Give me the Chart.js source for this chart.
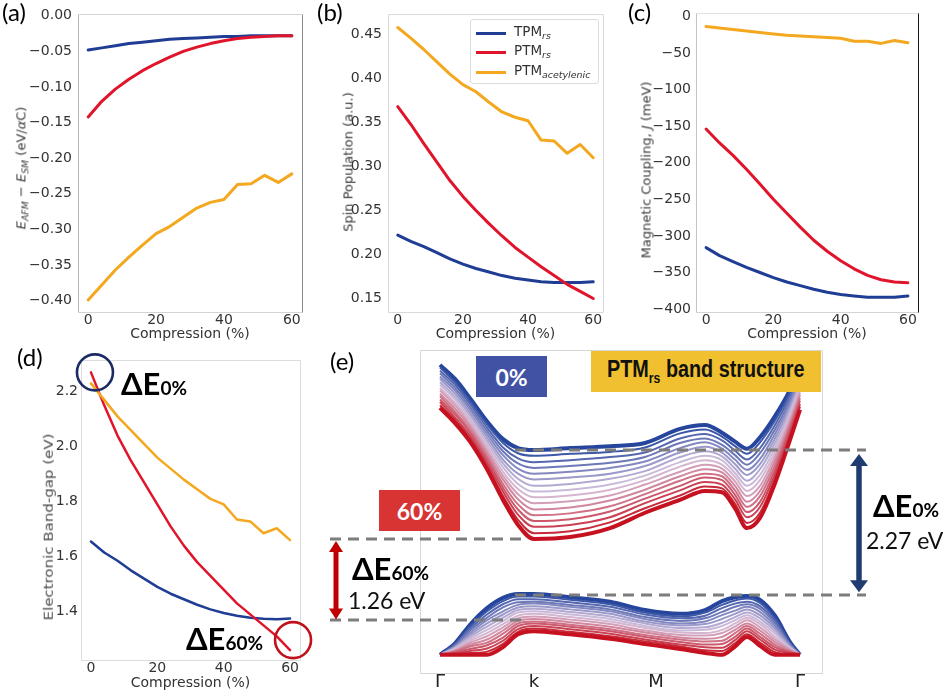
<!DOCTYPE html>
<html>
<head>
<meta charset="utf-8">
<title>PTM / TPM under compression</title>
<script src="https://cdn.jsdelivr.net/npm/chart.js@4.4.1/dist/chart.umd.min.js"></script>
<style>
html, body { margin: 0; padding: 0; background: #fff; }
#fig { position: relative; width: 945px; height: 695px; overflow: hidden; font-family: 'DejaVu Sans', sans-serif; }
#fig canvas { position: absolute; }
.txt { position: absolute; white-space: nowrap; line-height: 1; }
.panel { font-family: Lato, 'Open Sans', sans-serif; font-size: 24px; color: #000; }
.ytitle { position: absolute; white-space: nowrap; line-height: 1; font-size: 13px; color: #3a3a3a;
  transform: translate(-50%, -50%) rotate(-90deg); }
.ytitle sub { font-size: 0.72em; vertical-align: -0.3em; }
.dE { font-family: Lato, 'Open Sans', sans-serif; font-weight: bold; font-size: 31px; color: #000; }
.dE span { font-size: 19px; }
.ev { font-family: Lato, 'Open Sans', sans-serif; font-size: 23px; color: #111; }
.tag { position: absolute; display: flex; align-items: center; justify-content: center;
  font-family: Lato, 'Open Sans', sans-serif; font-weight: bold; color: #fff; font-size: 23px; }
#legend { position: absolute; left: 470px; top: 19px; width: 127px; height: 63px; border: 1px solid #dcdcdc;
  border-radius: 3px; background: rgba(255,255,255,0.85); font-size: 13.5px; color: #333; }
#legend .row { position: absolute; left: 5px; height: 16px; display: flex; align-items: center; white-space: nowrap; }
#legend .sw { display: inline-block; width: 30px; height: 3px; margin-right: 8px; }
#legend .lt { line-height: 1; }
#legend sub { font-size: 0.7em; font-style: italic; vertical-align: -0.35em; }
#bandTitle { background: #f0c030; color: #111; font-family: 'Liberation Sans', Arial, sans-serif; font-size: 23px; }
#bandTitle .inner { transform: scaleX(0.86); white-space: nowrap; }
#bandTitle sub { font-size: 0.62em; vertical-align: -0.45em; }
</style>
</head>
<body>
<div id="fig">
  <canvas id="chartA" width="320" height="345" style="left:0;top:0"></canvas>
  <canvas id="chartB" width="300" height="345" style="left:320px;top:0"></canvas>
  <canvas id="chartC" width="325" height="345" style="left:620px;top:0"></canvas>
  <canvas id="chartD" width="330" height="355" style="left:0;top:340px"></canvas>
  <canvas id="chartE" width="620" height="355" style="left:325px;top:340px"></canvas>

  <div class="txt panel" style="left:2px;top:0">(a)</div>
  <div class="txt panel" style="left:317px;top:0">(b)</div>
  <div class="txt panel" style="left:628px;top:0">(c)</div>
  <div class="txt panel" style="left:17px;top:345px">(d)</div>
  <div class="txt panel" style="left:330px;top:349px">(e)</div>

  <div class="ytitle" style="left:22px;top:168px"><i>E</i><sub><i>AFM</i></sub> &minus; <i>E</i><sub><i>SM</i></sub> (eV/<i>&alpha;</i>C)</div>
  <div class="ytitle" style="left:348px;top:162px">Spin Population (a.u.)</div>
  <div class="ytitle" style="left:646px;top:170px">Magnetic Coupling, <i>J</i> (meV)</div>
  <div class="ytitle" style="left:49px;top:527px;font-size:12.5px;color:#4a4a4a;transform:translate(-50%,-50%) rotate(-90deg) scaleX(1.2)">Electronic Band-gap (eV)</div>

  <div id="legend">
    <div class="row" style="top:5px"><span class="sw" style="background:#1f3d94"></span><span class="lt">TPM<sub>rs</sub></span></div>
    <div class="row" style="top:24px"><span class="sw" style="background:#e0152b"></span><span class="lt">PTM<sub>rs</sub></span></div>
    <div class="row" style="top:44px"><span class="sw" style="background:#f4a81f"></span><span class="lt">PTM<sub>acetylenic</sub></span></div>
  </div>

  <div class="txt dE" style="left:121px;top:368px">&Delta;E<span>0%</span></div>
  <div class="txt dE" style="left:186px;top:623px">&Delta;E<span>60%</span></div>

  <div class="tag" style="left:476px;top:356px;width:71px;height:41px;background:#4152a5">0%</div>
  <div class="tag" style="left:379px;top:490px;width:81px;height:41px;background:#d83434">60%</div>
  <div class="tag" id="bandTitle" style="left:591px;top:351px;width:230px;height:41px"><div class="inner">PTM<sub>rs</sub> band structure</div></div>

  <div class="txt dE" style="left:873px;top:490px">&Delta;E<span>0%</span></div>
  <div class="txt ev" id="gap0Label" style="left:866px;top:529px"></div>
  <div class="txt dE" style="left:352px;top:553px">&Delta;E<span>60%</span></div>
  <div class="txt ev" id="gap60Label" style="left:348px;top:589px"></div>
</div>

<script>
// compression steps (%)
const compression = [0, 4, 8, 12, 16, 20, 24, 28, 32, 36, 40, 44, 48, 52, 56, 60];

// (a) E_AFM - E_SM per αC (eV)
const energyTPMrs = [-0.048, -0.045, -0.042, -0.039, -0.037, -0.035, -0.033, -0.032, -0.031, -0.030, -0.029, -0.029, -0.028, -0.028, -0.028, -0.028];
const energyPTMrs = [-0.142, -0.120, -0.103, -0.089, -0.077, -0.067, -0.058, -0.050, -0.044, -0.039, -0.035, -0.032, -0.030, -0.029, -0.028, -0.028];
const energyPTMac = [-0.399, -0.378, -0.357, -0.339, -0.322, -0.306, -0.296, -0.283, -0.270, -0.262, -0.258, -0.237, -0.236, -0.224, -0.234, -0.222];

// (b) spin population (a.u.)
const spinTPMrs = [0.222, 0.215, 0.209, 0.202, 0.195, 0.189, 0.184, 0.180, 0.176, 0.173, 0.171, 0.169, 0.168, 0.168, 0.168, 0.169];
const spinPTMrs = [0.368, 0.348, 0.326, 0.305, 0.284, 0.266, 0.250, 0.235, 0.221, 0.208, 0.197, 0.186, 0.176, 0.166, 0.158, 0.150];
const spinPTMac = [0.458, 0.446, 0.433, 0.419, 0.405, 0.393, 0.385, 0.373, 0.362, 0.356, 0.352, 0.330, 0.329, 0.315, 0.325, 0.310];

// (c) magnetic coupling J (meV)
const couplingTPMrs = [-316, -327, -335, -343, -350, -357, -363, -368, -373, -377, -380, -382, -384, -384, -384, -382];
const couplingPTMrs = [-154, -173, -190, -209, -229, -250, -269, -288, -306, -321, -334, -345, -354, -360, -363, -364];
const couplingPTMac = [-14, -16, -18, -20, -22, -24, -26, -27, -28, -29, -30, -34, -34, -37, -33, -36];

// (d) electronic band gap (eV)
const gapTPMrs = [1.655, 1.615, 1.585, 1.55, 1.52, 1.49, 1.465, 1.445, 1.425, 1.408, 1.395, 1.385, 1.378, 1.374, 1.372, 1.375];
const gapPTMrs = [2.27, 2.15, 2.04, 1.95, 1.87, 1.79, 1.71, 1.64, 1.58, 1.53, 1.48, 1.43, 1.39, 1.35, 1.31, 1.26];
const gapPTMac = [2.23, 2.17, 2.11, 2.06, 2.01, 1.96, 1.92, 1.88, 1.845, 1.81, 1.79, 1.735, 1.728, 1.685, 1.703, 1.66];

// axis ticks
const compressionTicks = [0, 20, 40, 60];
const energyTicks = [-0.40, -0.35, -0.30, -0.25, -0.20, -0.15, -0.10, -0.05, 0.00];
const spinTicks = [0.15, 0.20, 0.25, 0.30, 0.35, 0.40, 0.45];
const couplingTicks = [-400, -350, -300, -250, -200, -150, -100, -50, 0];
const gapTicks = [1.4, 1.6, 1.8, 2.0, 2.2];

// (e) PTM_rs bands along Γ-k-M-Γ, one row per compression step (eV)
const kPath = [0, 0.15, 0.30, 0.47, 0.63, 0.78, 0.94, 1.30, 1.70, 2.05, 2.40, 2.65, 2.82, 2.95, 3.07, 3.20, 3.35, 3.50, 3.60];
const kTickPos = [0, 0.94, 2.16, 3.60];
const kTickLabels = ['Γ', 'k', 'M', 'Γ'];

const conductionBands = [
  [3.58, 3.36, 3.06, 2.70, 2.42, 2.28, 2.25, 2.28, 2.31, 2.36, 2.58, 2.64, 2.52, 2.38, 2.27, 2.45, 2.78, 3.19, 3.56],
  [3.54, 3.31, 3.01, 2.65, 2.36, 2.20, 2.16, 2.19, 2.22, 2.29, 2.51, 2.57, 2.46, 2.31, 2.19, 2.37, 2.71, 3.14, 3.51],
  [3.49, 3.27, 2.97, 2.60, 2.29, 2.12, 2.06, 2.09, 2.14, 2.21, 2.43, 2.50, 2.40, 2.24, 2.10, 2.28, 2.64, 3.09, 3.47],
  [3.45, 3.22, 2.92, 2.55, 2.23, 2.04, 1.97, 2.00, 2.05, 2.14, 2.36, 2.43, 2.33, 2.17, 2.02, 2.20, 2.57, 3.03, 3.42],
  [3.40, 3.18, 2.88, 2.50, 2.17, 1.96, 1.88, 1.91, 1.97, 2.07, 2.28, 2.37, 2.27, 2.10, 1.94, 2.11, 2.50, 2.98, 3.38],
  [3.36, 3.13, 2.83, 2.45, 2.10, 1.88, 1.79, 1.82, 1.88, 2.00, 2.21, 2.30, 2.21, 2.03, 1.86, 2.03, 2.43, 2.93, 3.33],
  [3.31, 3.08, 2.79, 2.40, 2.04, 1.80, 1.69, 1.72, 1.80, 1.92, 2.14, 2.23, 2.15, 1.96, 1.77, 1.95, 2.36, 2.88, 3.29],
  [3.27, 3.04, 2.74, 2.35, 1.98, 1.72, 1.60, 1.63, 1.71, 1.85, 2.06, 2.16, 2.09, 1.89, 1.69, 1.86, 2.29, 2.83, 3.24],
  [3.22, 2.99, 2.70, 2.30, 1.91, 1.64, 1.51, 1.54, 1.63, 1.78, 1.99, 2.09, 2.02, 1.83, 1.61, 1.78, 2.22, 2.77, 3.20],
  [3.18, 2.95, 2.65, 2.25, 1.85, 1.56, 1.42, 1.45, 1.54, 1.71, 1.91, 2.02, 1.96, 1.76, 1.53, 1.69, 2.15, 2.72, 3.15],
  [3.13, 2.90, 2.61, 2.20, 1.79, 1.48, 1.32, 1.35, 1.46, 1.63, 1.84, 1.95, 1.90, 1.69, 1.44, 1.61, 2.08, 2.67, 3.11],
  [3.09, 2.85, 2.56, 2.15, 1.72, 1.40, 1.23, 1.26, 1.37, 1.56, 1.77, 1.88, 1.84, 1.62, 1.36, 1.53, 2.01, 2.62, 3.06],
  [3.04, 2.81, 2.52, 2.10, 1.66, 1.32, 1.14, 1.17, 1.29, 1.49, 1.69, 1.82, 1.78, 1.55, 1.28, 1.44, 1.94, 2.57, 3.02],
  [3.00, 2.76, 2.47, 2.05, 1.60, 1.24, 1.05, 1.08, 1.20, 1.42, 1.62, 1.75, 1.71, 1.48, 1.20, 1.36, 1.87, 2.51, 2.97],
  [2.95, 2.72, 2.43, 2.00, 1.53, 1.16, 0.95, 0.98, 1.12, 1.34, 1.54, 1.68, 1.65, 1.41, 1.11, 1.27, 1.80, 2.46, 2.93],
  [2.91, 2.67, 2.38, 1.95, 1.47, 1.08, 0.86, 0.89, 1.03, 1.27, 1.47, 1.61, 1.59, 1.34, 1.03, 1.19, 1.73, 2.41, 2.88]
];

const valenceBands = [
  [-0.95, -0.77, -0.48, -0.22, -0.06, 0.00, 0.00, -0.05, -0.12, -0.25, -0.31, -0.25, -0.11, -0.05, -0.03, -0.09, -0.34, -0.75, -0.95],
  [-0.95, -0.78, -0.51, -0.27, -0.11, -0.04, -0.04, -0.09, -0.16, -0.29, -0.35, -0.29, -0.17, -0.10, -0.07, -0.14, -0.38, -0.76, -0.95],
  [-0.95, -0.79, -0.54, -0.32, -0.16, -0.08, -0.08, -0.13, -0.20, -0.32, -0.38, -0.34, -0.22, -0.15, -0.12, -0.19, -0.42, -0.78, -0.95],
  [-0.95, -0.81, -0.57, -0.37, -0.21, -0.13, -0.12, -0.17, -0.24, -0.36, -0.42, -0.38, -0.28, -0.20, -0.16, -0.23, -0.46, -0.79, -0.95],
  [-0.95, -0.82, -0.61, -0.41, -0.27, -0.17, -0.15, -0.20, -0.27, -0.39, -0.46, -0.43, -0.33, -0.26, -0.20, -0.28, -0.50, -0.80, -0.95],
  [-0.95, -0.83, -0.64, -0.46, -0.32, -0.21, -0.19, -0.24, -0.31, -0.43, -0.49, -0.47, -0.39, -0.31, -0.24, -0.33, -0.54, -0.82, -0.95],
  [-0.95, -0.84, -0.67, -0.51, -0.37, -0.25, -0.23, -0.28, -0.35, -0.46, -0.53, -0.52, -0.45, -0.36, -0.29, -0.38, -0.58, -0.83, -0.95],
  [-0.95, -0.85, -0.70, -0.56, -0.42, -0.29, -0.27, -0.32, -0.39, -0.50, -0.57, -0.56, -0.50, -0.41, -0.33, -0.43, -0.62, -0.84, -0.95],
  [-0.95, -0.87, -0.73, -0.61, -0.47, -0.34, -0.31, -0.36, -0.43, -0.53, -0.60, -0.61, -0.56, -0.46, -0.37, -0.47, -0.67, -0.86, -0.95],
  [-0.95, -0.88, -0.76, -0.66, -0.52, -0.38, -0.35, -0.40, -0.47, -0.57, -0.64, -0.65, -0.61, -0.51, -0.41, -0.52, -0.71, -0.87, -0.95],
  [-0.95, -0.89, -0.79, -0.71, -0.57, -0.42, -0.39, -0.44, -0.51, -0.60, -0.68, -0.70, -0.67, -0.56, -0.46, -0.57, -0.75, -0.88, -0.95],
  [-0.95, -0.90, -0.82, -0.76, -0.62, -0.46, -0.43, -0.48, -0.55, -0.64, -0.71, -0.74, -0.73, -0.61, -0.50, -0.62, -0.79, -0.90, -0.95],
  [-0.95, -0.91, -0.86, -0.80, -0.68, -0.50, -0.46, -0.51, -0.58, -0.67, -0.75, -0.79, -0.78, -0.67, -0.54, -0.67, -0.83, -0.91, -0.95],
  [-0.95, -0.93, -0.89, -0.85, -0.73, -0.55, -0.50, -0.55, -0.62, -0.71, -0.79, -0.83, -0.84, -0.72, -0.58, -0.71, -0.87, -0.92, -0.95],
  [-0.95, -0.94, -0.92, -0.90, -0.78, -0.59, -0.54, -0.59, -0.66, -0.74, -0.82, -0.88, -0.89, -0.77, -0.63, -0.76, -0.91, -0.94, -0.95],
  [-0.95, -0.95, -0.95, -0.95, -0.83, -0.63, -0.58, -0.63, -0.70, -0.78, -0.86, -0.92, -0.95, -0.82, -0.67, -0.81, -0.95, -0.95, -0.95]
];

const BLUE = '#1f3d94', RED = '#e0152b', ORANGE = '#f4a81f';
const AXIS_FONT = 'DejaVu Sans';
const TICK_COLOR = '#333';

Chart.defaults.font.family = AXIS_FONT;

// thin box around the plotting area, each side with its own colour
const framePlugin = {
  id: 'frame',
  beforeDatasetsDraw(chart, args, opts) {
    const { ctx, chartArea: a } = chart;
    const c = opts.colors || {};
    const L = Math.round(a.left) + 0.5, R = Math.round(a.right) + 0.5;
    const T = Math.round(a.top) + 0.5, B = Math.round(a.bottom) + 0.5;
    const seg = (color, x0, y0, x1, y1) => {
      if (!color) return;
      ctx.strokeStyle = color;
      ctx.beginPath(); ctx.moveTo(x0, y0); ctx.lineTo(x1, y1); ctx.stroke();
    };
    ctx.save();
    ctx.lineWidth = 1;
    seg(c.top, L, T, R, T);
    seg(c.bottom, L, B, R, B);
    seg(c.left, L, T, L, B);
    seg(c.right, R, T, R, B);
    ctx.restore();
  }
};

const fixedTicks = values => scale => { scale.ticks = values.map(v => ({ value: v })); };
const minus = s => s.replace('-', '\u2212');

function seriesChart(id, cfg) {
  return new Chart(document.getElementById(id), {
    type: 'line',
    data: {
      labels: compression,
      datasets: cfg.series.map(s => ({
        data: s.data, borderColor: s.color, borderWidth: cfg.lineWidth,
        pointRadius: 0, tension: 0, fill: false, borderJoinStyle: 'round', borderCapStyle: 'round'
      }))
    },
    options: {
      responsive: false, animation: false, devicePixelRatio: 1,
      layout: { padding: cfg.padding },
      plugins: { legend: { display: false }, tooltip: { enabled: false }, frame: { colors: cfg.frame } },
      scales: {
        x: {
          type: 'linear', min: -3, max: 63,
          afterBuildTicks: fixedTicks(compressionTicks),
          afterFit: s => { s.height = cfg.xHeight; },
          grid: { display: false, drawTicks: false }, border: { display: false },
          ticks: { font: { size: 14 }, color: TICK_COLOR, padding: cfg.xPad, maxRotation: 0, autoSkip: false,
                   callback: v => String(v) },
          title: { display: true, text: 'Compression (%)', font: { size: 14 }, color: TICK_COLOR,
                   padding: { top: 0, bottom: cfg.titlePad } }
        },
        y: {
          type: 'linear', min: cfg.yMin, max: cfg.yMax,
          afterBuildTicks: fixedTicks(cfg.yTicks),
          afterFit: s => { s.width = cfg.yWidth; },
          grid: { display: false, drawTicks: false }, border: { display: false },
          ticks: { font: { size: 14 }, color: TICK_COLOR, padding: cfg.yPad, autoSkip: false, callback: cfg.fmt }
        }
      }
    },
    plugins: [framePlugin].concat(cfg.extra || [])
  });
}

const threeSeries = (tpm, ptm, ac) => [
  { data: ac, color: ORANGE }, { data: ptm, color: RED }, { data: tpm, color: BLUE }
];

seriesChart('chartA', {
  series: threeSeries(energyTPMrs, energyPTMrs, energyPTMac), lineWidth: 3,
  padding: { top: 12, right: 18, left: 0, bottom: 0 }, xHeight: 33, xPad: 0, titlePad: 2,
  yMin: -0.416, yMax: 0.002, yTicks: energyTicks, yWidth: 78, yPad: 6,
  fmt: v => minus(v.toFixed(2)),
  frame: { top: '#d4d4d4', bottom: '#d4d4d4', left: '#b8b8b8', right: '#8a8a8a' }
});

seriesChart('chartB', {
  series: threeSeries(spinTPMrs, spinPTMrs, spinPTMac), lineWidth: 3,
  padding: { top: 12, right: 17, left: 0, bottom: 0 }, xHeight: 33, xPad: 0, titlePad: 2,
  yMin: 0.1346, yMax: 0.4729, yTicks: spinTicks, yWidth: 68, yPad: 6,
  fmt: v => v.toFixed(2),
  frame: { top: '#dadada', bottom: '#dadada', left: '#dadada', right: '#dadada' }
});

seriesChart('chartC', {
  series: threeSeries(couplingTPMrs, couplingPTMrs, couplingPTMac), lineWidth: 3,
  padding: { top: 10, right: 27, left: 0, bottom: 0 }, xHeight: 33, xPad: 0, titlePad: 2,
  yMin: -404, yMax: 4, yTicks: couplingTicks, yWidth: 76, yPad: 5,
  fmt: v => minus(String(v)),
  frame: { top: '#e2e2e2', bottom: '#d4d4d4', left: '#c4c4c4', right: '#1a1a1a' }
});

// circles marking the PTM_rs gap at 0 % and 60 %
const gapCircles = {
  id: 'gapCircles',
  afterDatasetsDraw(chart) {
    const { ctx, scales: { x, y } } = chart;
    const last = compression.length - 1;
    const ring = (cx, cy, color) => {
      ctx.beginPath(); ctx.arc(cx, cy, 18, 0, 2 * Math.PI);
      ctx.strokeStyle = color; ctx.lineWidth = 2.6; ctx.stroke();
    };
    ctx.save();
    ring(x.getPixelForValue(compression[0]) + 4, y.getPixelForValue(gapPTMrs[0]), '#1b2b63');
    ring(x.getPixelForValue(compression[last]) + 3, y.getPixelForValue(gapPTMrs[last]) - 10, '#c0121c');
    ctx.restore();
  }
};

seriesChart('chartD', {
  series: threeSeries(gapTPMrs, gapPTMrs, gapPTMac), lineWidth: 2.5,
  padding: { top: 20, right: 30, left: 0, bottom: 0 }, xHeight: 35, xPad: 0, titlePad: 3.5,
  yMin: 1.224, yMax: 2.315, yTicks: gapTicks, yWidth: 81, yPad: 3,
  fmt: v => v.toFixed(1),
  frame: { top: '#dcdcdc', bottom: '#dcdcdc', left: '#dcdcdc', right: '#dcdcdc' },
  extra: [gapCircles]
});

// ---- (e) band structure ----
function bandColor(t) {
  const stops = [[0, [38, 70, 158]], [0.5, [214, 194, 222]], [1, [198, 18, 32]]];
  const i = t <= 0.5 ? 0 : 1;
  const [t0, c0] = stops[i], [t1, c1] = stops[i + 1];
  const u = (t - t0) / (t1 - t0);
  const c = c0.map((v, k) => Math.round(v + (c1[k] - v) * u));
  return `rgb(${c[0]},${c[1]},${c[2]})`;
}

const bandDatasets = [];
// highest compression first so it ends up drawn on top
for (let i = compression.length - 1; i >= 0; i--) {
  const color = bandColor(compression[i] / compression[compression.length - 1]);
  const width = (i === 0 || i === compression.length - 1) ? 4 : 2;
  [conductionBands[i], valenceBands[i]].forEach(band => {
    bandDatasets.push({
      data: band.map((e, j) => ({ x: kPath[j], y: e })),
      borderColor: color, borderWidth: width, pointRadius: 0,
      cubicInterpolationMode: 'monotone', fill: false
    });
  });
}

function doubleArrow(ctx, px, yTop, yBot, color, half, head, shaft) {
  ctx.fillStyle = color; ctx.strokeStyle = color; ctx.lineWidth = shaft;
  ctx.beginPath(); ctx.moveTo(px, yTop + head - 1); ctx.lineTo(px, yBot - head + 1); ctx.stroke();
  ctx.beginPath(); ctx.moveTo(px, yTop); ctx.lineTo(px - half, yTop + head); ctx.lineTo(px + half, yTop + head); ctx.closePath(); ctx.fill();
  ctx.beginPath(); ctx.moveTo(px, yBot); ctx.lineTo(px - half, yBot - head); ctx.lineTo(px + half, yBot - head); ctx.closePath(); ctx.fill();
}

// dashed band-edge guides and the gap arrows
const gapMarks = {
  id: 'gapMarks',
  afterDatasetsDraw(chart) {
    const { ctx, chartArea: a, scales: { x, y } } = chart;
    const last = compression.length - 1;
    const cbm0 = Math.min(...conductionBands[0]);
    const cbm60 = Math.min(...conductionBands[last]);
    const vbm0 = cbm0 - gapPTMrs[0];
    const vbm60 = cbm60 - gapPTMrs[last];
    const kPx = x.getPixelForValue(kTickPos[1]);
    const hline = (e, x0, x1) => {
      const py = Math.round(y.getPixelForValue(e));
      ctx.beginPath(); ctx.moveTo(x0, py); ctx.lineTo(x1, py); ctx.stroke();
    };
    ctx.save();
    ctx.strokeStyle = '#7d7d7d'; ctx.lineWidth = 3; ctx.setLineDash([11, 7]);
    hline(cbm0, kPx - 19, a.right + 44);
    hline(vbm0, kPx - 19, a.right + 44);
    hline(cbm60, 5, kPx - 12);
    hline(vbm60, 5, kPx - 12);
    ctx.setLineDash([]);
    doubleArrow(ctx, a.right + 37, y.getPixelForValue(cbm0) + 4, y.getPixelForValue(vbm0) - 3, '#1f3b70', 9, 12, 5.5);
    doubleArrow(ctx, 11, y.getPixelForValue(cbm60) + 2, y.getPixelForValue(vbm60), '#c00000', 7, 11, 5);
    ctx.restore();
  }
};

new Chart(document.getElementById('chartE'), {
  type: 'line',
  data: { datasets: bandDatasets },
  options: {
    responsive: false, animation: false, devicePixelRatio: 1,
    layout: { padding: { left: 95, right: 123, top: 10, bottom: 0 } },
    plugins: { legend: { display: false }, tooltip: { enabled: false },
      frame: { colors: { top: '#d6d6d6', bottom: '#d6d6d6', left: '#d6d6d6', right: '#d6d6d6' } } },
    scales: {
      x: {
        type: 'linear', min: -0.2, max: 3.82,
        afterBuildTicks: fixedTicks(kTickPos),
        afterFit: s => { s.height = 22; },
        grid: { display: false, drawTicks: false }, border: { display: false },
        ticks: { font: { size: 18, lineHeight: 1 }, color: '#222', padding: 0, maxRotation: 0, autoSkip: false,
                 callback: (v, i) => kTickLabels[i] }
      },
      y: { type: 'linear', display: false, min: -1.234, max: 3.8125 }
    }
  },
  plugins: [framePlugin, gapMarks]
});

document.getElementById('gap0Label').textContent = gapPTMrs[0].toFixed(2) + ' eV';
document.getElementById('gap60Label').textContent = gapPTMrs[gapPTMrs.length - 1].toFixed(2) + ' eV';
</script>
</body>
</html>
